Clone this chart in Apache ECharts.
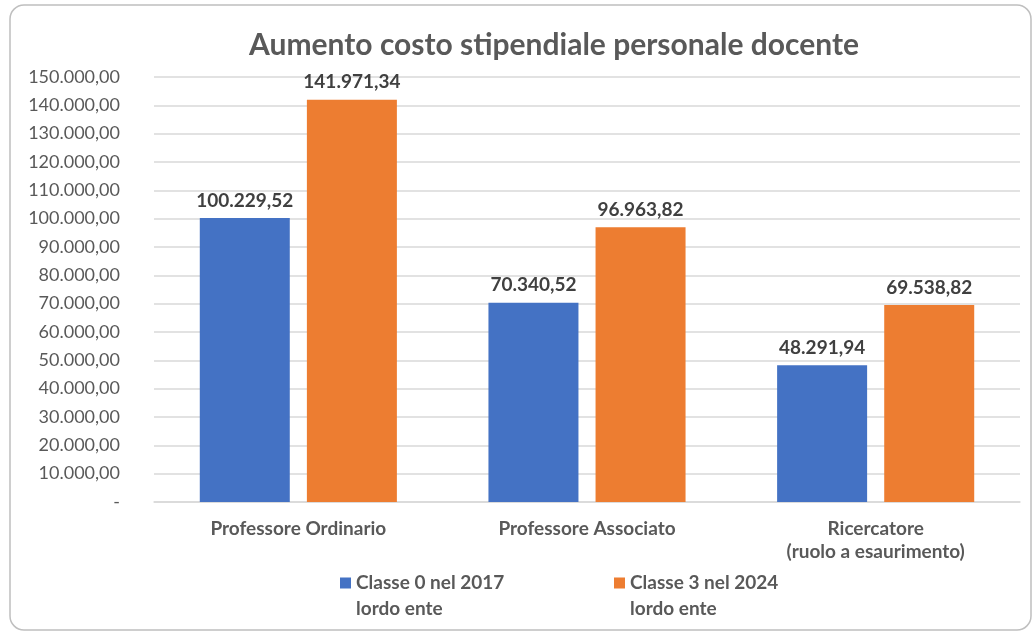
<!DOCTYPE html>
<html>
<head>
<meta charset="UTF-8">
<title>Aumento costo stipendiale</title>
<script src="https://cdn.jsdelivr.net/npm/echarts@6/dist/echarts.min.js"></script>
<style>
html, body { margin: 0; padding: 0; background: #fff; }
#main { width: 1034px; height: 632px; }
</style>
</head>
<body>
<div id="main"></div>
<script type="text/javascript">
// dati
var categorie = ['Professore Ordinario', 'Professore Associato', 'Ricercatore\n(ruolo a esaurimento)'];
var nomiSerie = ['Classe 0 nel 2017\nlordo ente', 'Classe 3 nel 2024\nlordo ente'];
var classe0 = [100229.52, 70340.52, 48291.94];
var classe3 = [141971.34, 96963.82, 69538.82];
var asseMin = 0, asseMax = 150000, passo = 10000;

var font = 'Lato, "Open Sans", sans-serif';
var grigio = '#595959';

// formato italiano 150.000,00 - lo zero come "-"
function formatta(v) {
    if (v === 0) return '-';
    var p = v.toFixed(2).split('.');
    var intero = p[0].replace(/\B(?=(\d{3})+(?!\d))/g, '.');
    return intero + ',' + p[1];
}

// quadratino in alto, punto invisibile in basso: il marcatore resta sulla prima riga
var iconaLegenda = 'path://M0,0h11v11h-11z M0,37h0.01v0.01h-0.01z';

var myChart = echarts.init(document.getElementById('main'));

var testoLegenda = { fontFamily: font, fontSize: 19, fontWeight: 'bold', color: grigio, lineHeight: 26 };
var etichettaBarra = {
    show: true, position: 'top', distance: 8,
    formatter: function (p) { return formatta(p.value); },
    fontFamily: font, fontSize: 19, fontWeight: 'bold', color: '#404040'
};

var option = {
    animation: false,
    color: ['#4472c4', '#ed7d31'],
    graphic: [{
        type: 'rect',
        shape: { x: 10, y: 5, width: 1021, height: 625, r: 14 },
        style: { fill: 'none', stroke: '#bfbfbf', lineWidth: 1.5 },
        silent: true
    }],
    title: {
        text: 'Aumento costo stipendiale personale docente',
        left: 549,
        top: 25,
        textAlign: 'center',
        textStyle: { fontFamily: font, fontSize: 30, fontWeight: 'bold', color: grigio }
    },
    legend: [{
        data: [nomiSerie[0]],
        left: 335,
        top: 565,
        icon: iconaLegenda,
        itemWidth: 11,
        itemHeight: 37,
        textStyle: testoLegenda
    }, {
        data: [nomiSerie[1]],
        left: 609,
        top: 565,
        icon: iconaLegenda,
        itemWidth: 11,
        itemHeight: 37,
        textStyle: testoLegenda
    }],
    grid: { left: 154, right: 14, top: 77, bottom: 130, containLabel: false },
    xAxis: {
        type: 'category',
        data: categorie,
        axisLine: { lineStyle: { color: '#d9d9d9', width: 1.5 } },
        axisTick: { show: false },
        axisLabel: {
            margin: 15,
            fontFamily: font, fontSize: 19, fontWeight: 'bold', color: grigio, lineHeight: 23
        }
    },
    yAxis: {
        type: 'value',
        min: asseMin,
        max: asseMax,
        interval: passo,
        axisLine: { show: false },
        axisTick: { show: false },
        splitLine: { lineStyle: { color: '#d9d9d9', width: 1.5 } },
        axisLabel: {
            margin: 34,
            formatter: formatta,
            fontFamily: font, fontSize: 18, color: grigio
        }
    },
    series: [{
        name: nomiSerie[0],
        type: 'bar',
        data: classe0,
        barWidth: 90,
        barGap: '19%',
        label: etichettaBarra
    }, {
        name: nomiSerie[1],
        type: 'bar',
        data: classe3,
        barWidth: 90,
        label: etichettaBarra
    }]
};

myChart.setOption(option);
</script>
</body>
</html>
